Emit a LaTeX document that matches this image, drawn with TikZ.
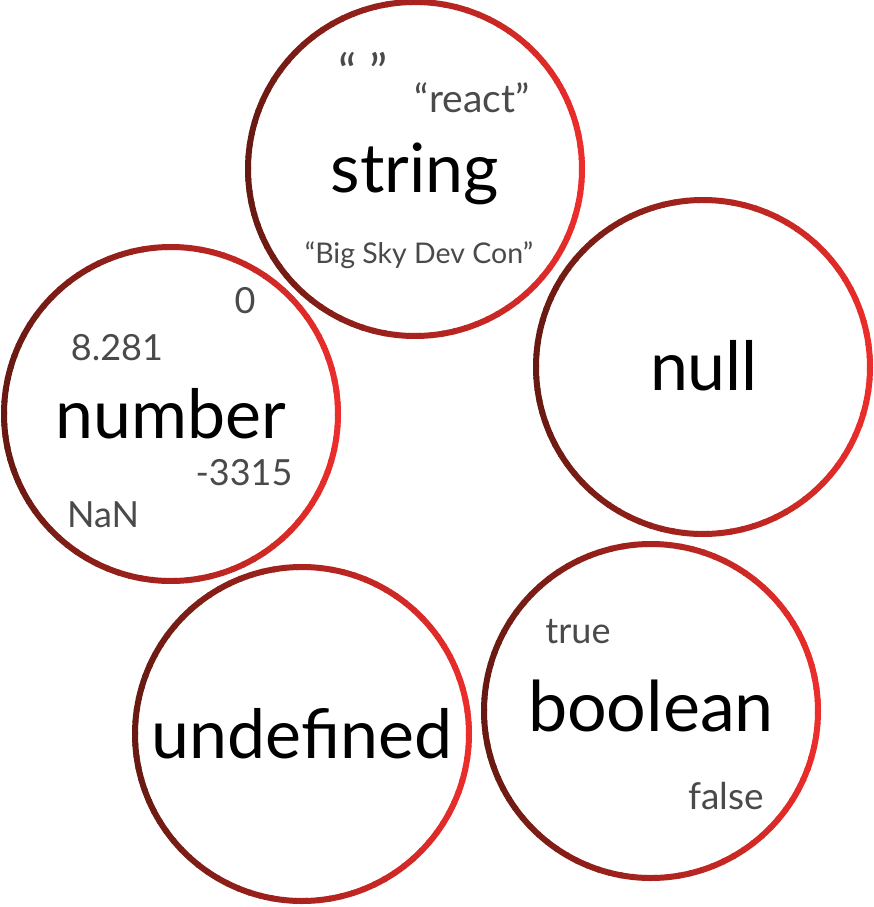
\documentclass[tikz,border=0pt]{standalone}
\usepackage{fontspec}
\setmainfont{Lato}
\definecolor{ringdark}{HTML}{681A12}
\definecolor{ringbright}{HTML}{EC2D2B}
\definecolor{valgray}{HTML}{4A4A4A}

\begin{document}
\begin{tikzpicture}[x=1pt, y=-1pt,
        typenode/.style={circle, fill=white, minimum size=334pt, inner sep=0pt},
        typelabel/.style={anchor=base, inner sep=0pt, font=\fontsize{68}{68}\selectfont},
        valnode/.style={anchor=base, inner sep=0pt, text=valgray, font=\fontsize{36}{36}\selectfont}]

        \useasboundingbox (0,0) rectangle (874,907);

        % bubbles
        \node[typenode] (string) at (415,169) {};
        \node[typenode] (null) at (703,367) {};
        \node[typenode] (number) at (171,414) {};
        \node[typenode] (undefined) at (302,734) {};
        \node[typenode] (boolean) at (651,711) {};

        % rings, dark on the left and bright on the right
        \foreach \n in {string,null,number,undefined,boolean} {
            \foreach \a in {0,4,...,356} {
                \pgfmathtruncatemacro{\p}{50+50*cos(\a+2)}
                \draw[ringbright!\p!ringdark, line width=6pt] ([shift={(\a:167)}]\n.center) arc[start angle=\a, end angle=\a+4.6, radius=167];
            }
        }

        % type names
        \node[typelabel] (stringlbl) at (415,192) {string};
        \node[typelabel] (nulllbl) at (704,390) {null};
        \node[typelabel] (numberlbl) at (171,438) {number};
        \node[typelabel] (undefinedlbl) at (302,758) {undefined};
        \node[typelabel, font=\fontsize{70}{70}\selectfont] (booleanlbl) at (651,731) {boolean};

        % sample values
        \node[valnode, font=\fontsize{50}{50}\selectfont] (quotes) at (363,90) {“ ”};
        \node[valnode, font=\fontsize{39}{39}\selectfont] (react) at (472,112) {“react”};
        \node[valnode, font=\fontsize{28.5}{28.5}\selectfont] (bigsky) at (419,263) {“Big Sky Dev Con”};
        \node[valnode] (zero) at (245,313) {0};
        \node[valnode] (decimal) at (117,360) {8.281};
        \node[valnode] (negative) at (244,485) {-3315};
        \node[valnode] (nan) at (103,527) {NaN};
        \node[valnode] (true) at (578,643) {true};
        \node[valnode, font=\fontsize{37}{37}\selectfont] (false) at (726,809) {false};

\end{tikzpicture}
\end{document}
